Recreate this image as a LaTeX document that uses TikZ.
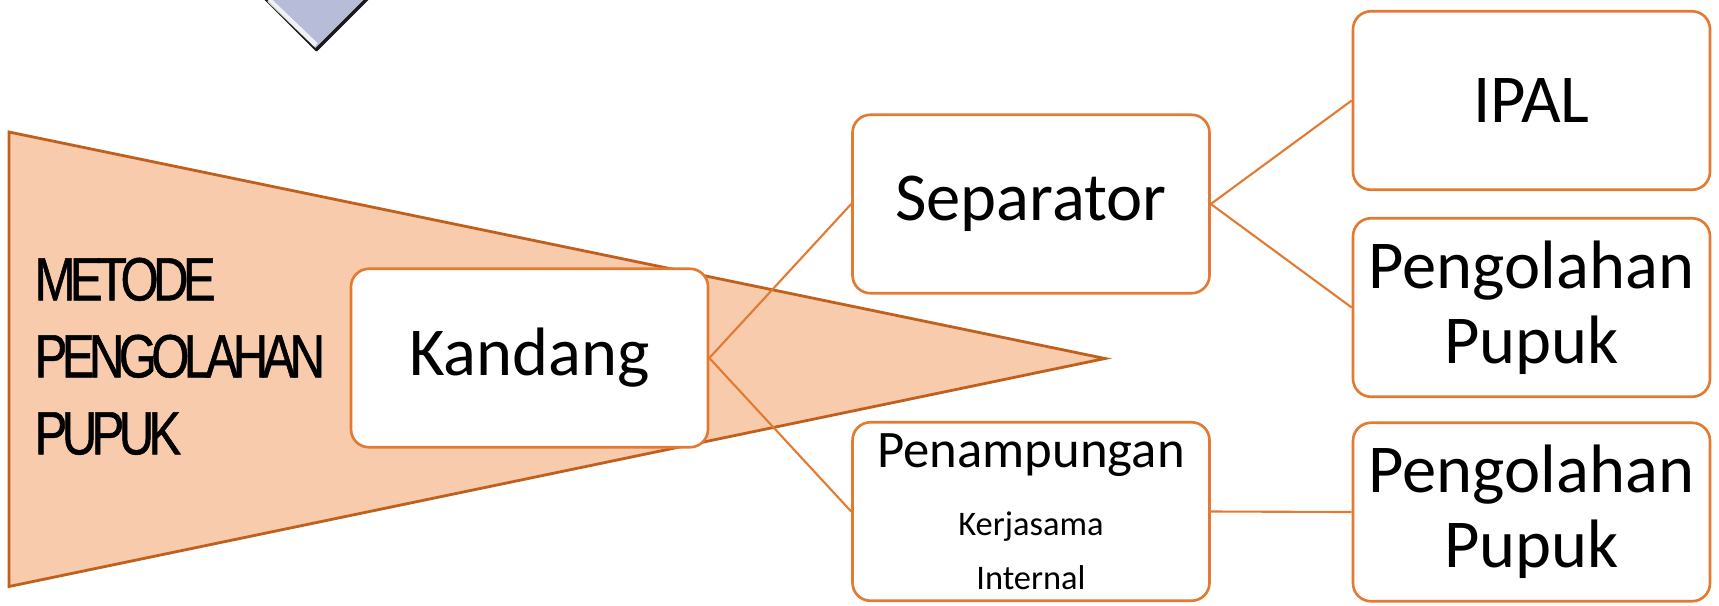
\documentclass[tikz,border=0pt]{standalone}
\usepackage{fontspec}
\setmainfont{Carlito}
\newfontfamily\condensedfont[FakeStretch=0.8, LetterSpace=-9, FakeBold=0.8]{Liberation Sans}
\usetikzlibrary{positioning}
\definecolor{olahOrange}{HTML}{E27A32}
\definecolor{olahRust}{HTML}{C0601D}
\definecolor{olahPeach}{HTML}{F8CBAD}
\definecolor{olahSlate}{HTML}{B7BDD8}
\definecolor{olahInk}{HTML}{1A1A1A}
\tikzset{
  every picture/.style={font=\fontsize{19.5}{21.3}\selectfont, text=black},
  olah box/.style={draw=olahOrange, line width=0.75pt, rounded corners=1.8mm,
    fill=white, align=center, minimum width=35.7mm, minimum height=17.85mm, inner sep=0pt},
  olah link/.style={draw=olahOrange, line width=0.6pt},
  olah funnel/.style={draw=olahRust, fill=olahPeach, line width=0.8pt, line join=miter},
  olah title/.style={font=\condensedfont\fontsize{17.4}{21.9}\selectfont,
    align=left, anchor=north west, inner sep=0pt},
  olah marker/.style={fill=olahSlate, draw=olahInk, line width=0.6pt}
}

\begin{document}
\begin{tikzpicture}[x=0.1mm,y=-0.1mm]
  \useasboundingbox (0,0) rectangle (1719,605);
  % marker cut by the top edge
  \begin{scope}
    \clip (0,0) rectangle (1719,605);
    \path[olah marker] (316,50) -- (256,-10) -- (316,-70) -- (376,-10) -- cycle;
    \draw[white, line width=1.4pt, opacity=0.8] (269,0) -- (316,45);
    \draw[olahInk, line width=1pt] (316,50) -- (370,-4);
  \end{scope}
  % funnel behind the boxes
  \draw[olah funnel] (9,132) -- (1105,358.5) -- (9,586.5) -- cycle;
  \node[olah title] (judul) at (34,257) {METODE\\PENGOLAHAN\\PUPUK};
  % boxes
  \node[olah box] (kandang) at (529.5,358) {Kandang};
  \node[olah box] (separator) at (1031,204) {Separator};
  \node[olah box, font=\fontsize{9.8}{15.4}\selectfont] (tampung) at (1031,511.5)
    {{\fontsize{15}{18}\selectfont Penampungan}\\[4pt]Kerjasama\\Internal};
  \node[olah box] (ipal) at (1531.5,100.5) {IPAL};
  \node[olah box] (olahA) at (1531.5,307.5) {Pengolahan\\Pupuk};
  \node[olah box] (olahB) at (1531.5,512) {Pengolahan\\Pupuk};
  % links
  \draw[olah link] (kandang.east) -- (separator.west);
  \draw[olah link] (kandang.east) -- (tampung.west);
  \draw[olah link] (separator.east) -- (ipal.west);
  \draw[olah link] (separator.east) -- (olahA.west);
  \draw[olah link] (tampung.east) -- (olahB.west);
\end{tikzpicture}
\end{document}
